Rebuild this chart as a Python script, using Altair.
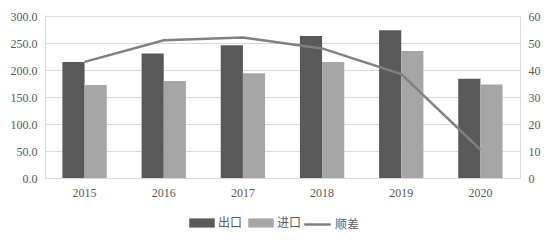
import altair as alt
import pandas as pd

years = ["2015", "2016", "2017", "2018", "2019", "2020"]
exports = [215.0, 230.5, 246.0, 263.0, 273.5, 184.0]
imports = [172.0, 179.5, 194.0, 215.0, 235.0, 173.0]
surplus = [43.0, 51.0, 52.0, 48.0, 38.5, 10.5]

bar_rows = []
for y, e, i in zip(years, exports, imports):
    bar_rows.append({"year": y, "series": "出口", "value": e})
    bar_rows.append({"year": y, "series": "进口", "value": i})
bars_df = pd.DataFrame(bar_rows)
line_df = pd.DataFrame({"year": years, "series": ["顺差"] * len(years), "value": surplus})

serif = "Liberation Serif"
cjk = "Noto Sans CJK SC"

xenc = alt.X("year:N", title=None,
             scale=alt.Scale(paddingInner=0.44, paddingOuter=0.22),
             axis=alt.Axis(labelAngle=0, ticks=False, domainColor="#d9d9d9",
                           labelFont=serif, labelFontSize=12, labelColor="#595959",
                           labelPadding=9, grid=False))

bars = alt.Chart(bars_df).mark_bar().encode(
    x=xenc,
    xOffset=alt.XOffset("series:N", sort=["出口", "进口"]),
    y=alt.Y("value:Q", title=None,
            scale=alt.Scale(domain=[0, 300]),
            axis=alt.Axis(values=[0, 50, 100, 150, 200, 250, 300], format=".1f",
                          ticks=False, domain=False, gridColor="#d9d9d9",
                          labelFont=serif, labelFontSize=12, labelColor="#595959",
                          labelPadding=8)),
    color=alt.Color("series:N", title=None,
                    scale=alt.Scale(domain=["出口", "进口"], range=["#595959", "#a6a6a6"]),
                    legend=alt.Legend(orient="none", legendX=144, legendY=194,
                                      direction="horizontal",
                                      symbolType="M-1,-0.36H1V0.36H-1Z", symbolSize=650,
                                      symbolStrokeWidth=0, labelFont=cjk, labelFontSize=12,
                                      labelColor="#595959", columnPadding=5, labelOffset=3)),
)

line = alt.Chart(line_df).mark_line(strokeWidth=2.5).encode(
    x=alt.X("year:N"),
    y=alt.Y("value:Q", title=None,
            scale=alt.Scale(domain=[0, 60]),
            axis=alt.Axis(values=[0, 10, 20, 30, 40, 50, 60], orient="right",
                          ticks=False, domain=False, grid=False,
                          labelFont=serif, labelFontSize=12, labelColor="#595959",
                          labelPadding=8)),
    stroke=alt.Stroke("series:N", title=None,
                      scale=alt.Scale(domain=["顺差"], range=["#808080"]),
                      legend=alt.Legend(orient="none", legendX=258, legendY=194,
                                        symbolType="stroke", symbolSize=700,
                                        symbolStrokeWidth=2.5, labelFont=cjk,
                                        labelFontSize=12, labelColor="#595959",
                                        labelOffset=3)),
)

chart = alt.layer(bars, line).resolve_scale(y="independent").properties(
    width=475, height=162,
    autosize=alt.AutoSizeParams(type="none"),
    padding={"left": 45, "top": 16, "right": 30, "bottom": 62},
).configure_view(stroke=None).configure(background="white")

chart.save("out.html", embed_options={"renderer": "svg", "actions": False})
